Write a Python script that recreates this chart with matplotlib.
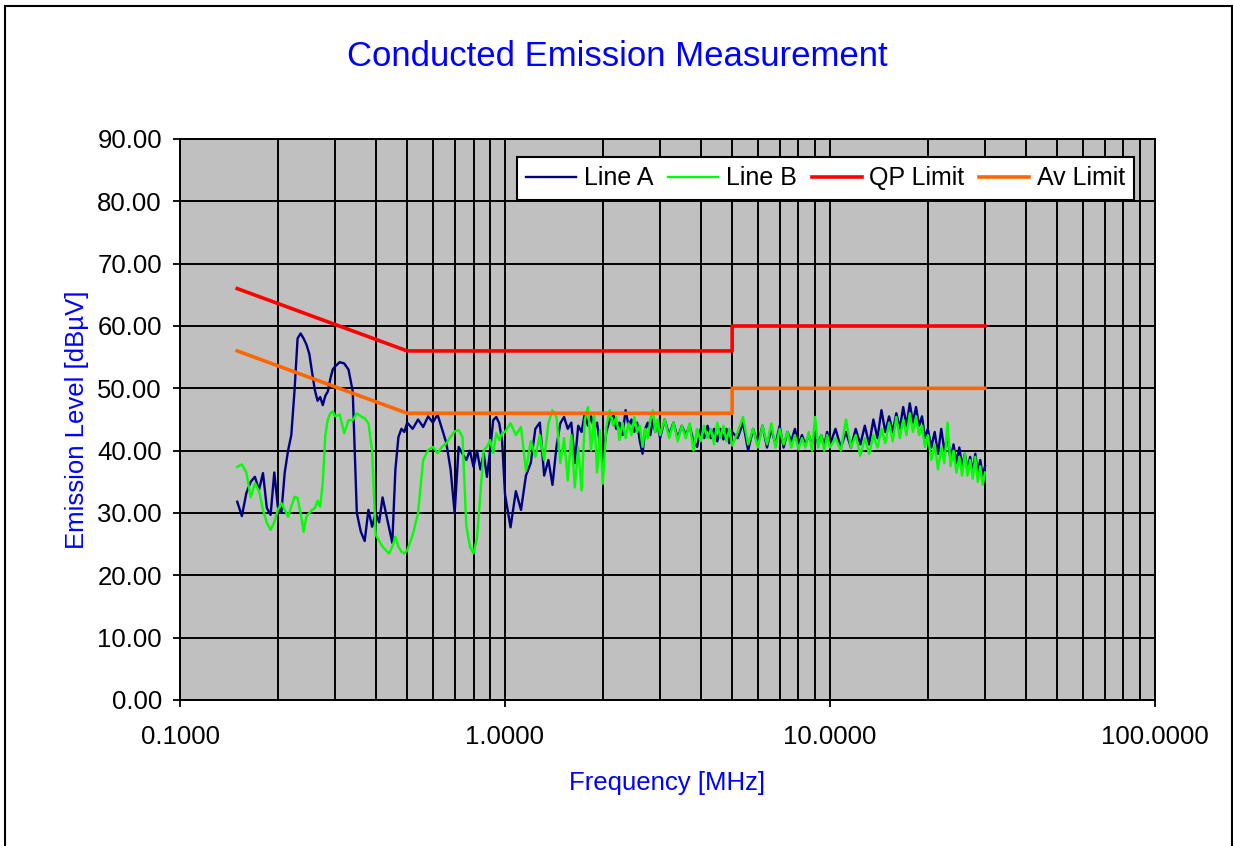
import matplotlib.pyplot as plt
from matplotlib.ticker import FormatStrFormatter, NullFormatter, MultipleLocator

plt.rcParams['font.family'] = ['Liberation Sans', 'DejaVu Sans']

# frequency grid of the scan [MHz]
freq = [
    0.150, 0.155, 0.160, 0.165, 0.170, 0.175, 0.180, 0.185, 0.190, 0.195, 0.200,
    0.205, 0.210, 0.215, 0.220, 0.225, 0.230, 0.235, 0.240, 0.245, 0.250,
    0.255, 0.260, 0.265, 0.270, 0.275, 0.280, 0.285, 0.290, 0.295, 0.300,
    0.31, 0.32, 0.33, 0.34, 0.35, 0.36, 0.37, 0.38, 0.39, 0.40,
    0.41, 0.42, 0.43, 0.44, 0.45, 0.46, 0.47, 0.48, 0.49, 0.50,
    0.52, 0.54, 0.56, 0.58, 0.60, 0.62, 0.64, 0.66, 0.68, 0.70, 0.72, 0.74, 0.76,
    0.78, 0.80, 0.82, 0.84, 0.86, 0.88, 0.90, 0.92, 0.94, 0.96, 0.98, 1.00,
    1.04, 1.08, 1.12, 1.16, 1.20, 1.24, 1.28, 1.32, 1.36, 1.40, 1.44, 1.48, 1.52,
    1.56, 1.60, 1.64, 1.68, 1.72, 1.76, 1.80, 1.84, 1.88, 1.92, 1.96, 2.00,
    2.05, 2.10, 2.15, 2.20, 2.25, 2.30, 2.35, 2.40, 2.45, 2.50,
    2.55, 2.60, 2.65, 2.70, 2.75, 2.80, 2.85, 2.90, 2.95, 3.00,
    3.1, 3.2, 3.3, 3.4, 3.5, 3.6, 3.7, 3.8, 3.9, 4.0,
    4.1, 4.2, 4.3, 4.4, 4.5, 4.6, 4.7, 4.8, 4.9, 5.0,
    5.2, 5.4, 5.6, 5.8, 6.0, 6.2, 6.4, 6.6, 6.8, 7.0, 7.2, 7.4, 7.6,
    7.8, 8.0, 8.2, 8.4, 8.6, 8.8, 9.0, 9.2, 9.4, 9.6, 9.8, 10.0,
    10.4, 10.8, 11.2, 11.6, 12.0, 12.4, 12.8, 13.2, 13.6, 14.0, 14.4, 14.8, 15.2,
    15.6, 16.0, 16.4, 16.8, 17.2, 17.6, 18.0, 18.4, 18.8, 19.2, 19.6, 20.0,
    20.5, 21.0, 21.5, 22.0, 22.5, 23.0, 23.5, 24.0, 24.5, 25.0,
    25.5, 26.0, 26.5, 27.0, 27.5, 28.0, 28.5, 29.0, 29.5, 30.0,
]

line_a = [
    31.8, 29.5, 33.2, 35.0, 35.8, 33.7, 36.4, 30.8, 29.7, 36.5, 31.0,
    30.0, 36.5, 40.0, 42.5, 49.5, 58.0, 58.8, 58.0, 57.0, 55.5,
    52.5, 49.7, 48.0, 48.6, 47.3, 48.8, 49.5, 51.5, 53.0, 53.5,
    54.2, 54.0, 53.0, 49.5, 30.0, 27.0, 25.5, 30.5, 27.8, 30.0,
    28.5, 32.5, 30.0, 27.5, 25.2, 37.0, 42.2, 43.5, 43.0, 44.5,
    43.5, 45.0, 43.8, 45.5, 44.5, 45.8, 43.5, 41.2, 37.0, 30.0, 40.6, 39.5, 38.5,
    40.0, 37.4, 40.0, 37.0, 39.5, 35.8, 40.0, 44.9, 45.4, 44.4, 41.5, 33.0,
    27.7, 33.5, 30.5, 36.0, 38.0, 43.5, 44.5, 36.0, 38.5, 34.5, 40.6, 44.4, 45.4,
    43.5, 44.5, 38.0, 44.0, 43.0, 46.0, 44.0, 45.5, 43.5, 44.5, 41.0, 38.5,
    43.0, 45.0, 46.0, 43.5, 44.5, 42.5, 46.5, 44.0, 45.0, 43.0,
    44.5, 41.5, 39.5, 43.5, 44.5, 42.5, 45.0, 43.0, 44.5, 42.0,
    45.0, 42.5, 44.5, 42.0, 44.0, 42.5, 44.0, 41.5, 40.6, 43.5,
    42.0, 44.0, 42.0, 43.5, 41.5, 43.5, 41.8, 43.5, 41.2, 43.0,
    42.0, 44.5, 40.0, 43.5, 41.0, 44.0, 40.5, 43.5, 41.0, 44.0, 40.5, 43.0, 41.5,
    43.5, 41.0, 42.5, 41.0, 42.5, 41.0, 43.0, 41.0, 42.5, 40.8, 43.0, 41.0,
    43.5, 40.5, 43.0, 40.5, 43.5, 41.0, 44.0, 41.0, 45.0, 42.0, 46.5, 43.0, 45.5,
    43.0, 46.0, 43.5, 47.0, 44.0, 47.6, 44.5, 47.0, 44.0, 45.5, 42.0, 43.5,
    40.5, 43.0, 39.5, 43.5, 40.0, 42.5, 38.5, 41.0, 38.0, 40.5,
    37.5, 39.5, 37.0, 39.0, 36.5, 39.5, 36.5, 38.5, 36.0, 37.5,
]

line_b = [
    37.4, 37.8, 36.5, 32.5, 34.8, 33.5, 30.5, 28.4, 27.3, 28.5, 30.5,
    31.6, 30.5, 29.4, 31.0, 32.6, 32.4, 30.0, 27.0, 29.5, 30.0,
    30.5, 30.8, 32.0, 31.0, 35.0, 42.5, 45.0, 46.0, 46.3, 45.5,
    45.8, 42.8, 44.9, 44.9, 46.0, 45.5, 45.2, 44.4, 40.0, 26.5,
    25.5, 24.6, 24.0, 23.5, 24.6, 26.2, 24.6, 23.8, 23.5, 24.0,
    26.5, 30.0, 38.5, 40.1, 40.6, 39.6, 40.6, 41.2, 42.2, 43.1, 43.3, 42.2, 28.0,
    24.6, 23.5, 26.0, 33.0, 40.1, 40.6, 41.7, 39.6, 42.8, 41.7, 42.8, 43.0,
    44.4, 42.5, 43.8, 36.8, 41.5, 39.0, 42.5, 38.5, 44.4, 46.5, 45.4, 38.0, 42.0,
    35.2, 42.5, 34.1, 40.5, 33.6, 44.9, 47.0, 40.0, 46.0, 36.5, 43.3, 34.7,
    43.8, 46.5, 44.0, 45.4, 41.7, 44.5, 42.0, 44.4, 42.5, 45.4,
    43.0, 44.0, 40.6, 43.5, 42.0, 45.0, 46.5, 43.0, 45.0, 42.5,
    45.0, 42.0, 44.5, 41.5, 44.0, 42.0, 44.4, 40.0, 43.5, 41.5,
    44.0, 42.0, 43.5, 41.0, 44.5, 42.0, 44.0, 41.5, 43.5, 40.8,
    43.0, 45.4, 41.0, 43.5, 40.5, 44.0, 41.0, 44.4, 40.5, 43.5, 41.0, 43.0, 40.5,
    42.5, 40.2, 42.0, 40.5, 43.0, 40.0, 45.4, 40.5, 42.5, 40.0, 42.5, 40.5,
    42.0, 40.0, 45.0, 40.5, 42.5, 39.2, 42.0, 39.5, 42.5, 40.5, 43.5, 41.2, 44.5,
    41.5, 45.4, 42.0, 45.0, 42.5, 46.0, 43.0, 45.5, 42.5, 44.0, 40.6, 42.5,
    38.5, 41.0, 37.0, 40.5, 38.0, 44.5, 37.5, 40.0, 36.5, 39.0,
    36.0, 39.5, 36.0, 38.5, 35.5, 39.0, 35.0, 37.5, 34.5, 36.5,
]

# limit lines
limit_freq = [0.15, 0.5, 5.0, 5.0, 30.0]
qp_limit = [66, 56, 56, 60, 60]
av_limit = [56, 46, 46, 50, 50]

fig = plt.figure(figsize=(12.33, 8.46), dpi=100)
ax = fig.add_axes([0.146, 0.1726, 0.7907, 0.6631])
ax.set_facecolor('#C0C0C0')

ax.plot(freq, line_a, color='#000080', lw=1.7, label='Line A')
ax.plot(freq, line_b, color='#00FF00', lw=1.7, label='Line B')
ax.plot(limit_freq, qp_limit, color='#FF0000', lw=2.6, label='QP Limit')
ax.plot(limit_freq, av_limit, color='#FF6600', lw=2.6, label='Av Limit')

ax.set_xscale('log')
ax.set_xlim(0.1, 100)
ax.set_ylim(0, 90)
ax.yaxis.set_major_locator(MultipleLocator(10))
ax.yaxis.set_major_formatter(FormatStrFormatter('%.2f'))
ax.xaxis.set_major_formatter(FormatStrFormatter('%.4f'))
ax.xaxis.set_minor_formatter(NullFormatter())

ax.xaxis.grid(True, which='both', color='black', lw=1.4)
ax.yaxis.grid(True, which='major', color='black', lw=1.4)
ax.set_axisbelow(True)

ax.tick_params(which='major', direction='out', length=5, width=1.3, labelsize=18.5)
ax.tick_params(axis='x', which='major', pad=13)
ax.tick_params(axis='y', which='major', pad=8)
ax.tick_params(which='minor', length=0)
for s in ax.spines.values():
    s.set_color('black')
    s.set_linewidth(1.4)

ax.set_xlabel('Frequency [MHz]', color='#0000FF', fontsize=18.5, labelpad=16)
ax.set_ylabel('Emission Level [dBµV]', color='#0000FF', fontsize=18.5, labelpad=6)
fig.text(0.501, 0.933, 'Conducted Emission Measurement', color='#0000FF',
         fontsize=25, ha='center', va='center')

leg = ax.legend(loc='upper right', bbox_to_anchor=(0.979, 0.968), ncol=4,
                fontsize=18, frameon=True, fancybox=False, framealpha=1,
                edgecolor='black', borderaxespad=0, handlelength=2,
                handletextpad=0.3, columnspacing=0.6, borderpad=0.38)
leg.get_frame().set_linewidth(1.5)

# outer chart border
fig.patches.append(plt.Rectangle((5 / 1233, -0.1), 1226.5 / 1233, 1.1 - 6 / 846,
                                 transform=fig.transFigure, fill=False,
                                 edgecolor='black', lw=1.5))

fig.savefig('out.png', dpi=100)
